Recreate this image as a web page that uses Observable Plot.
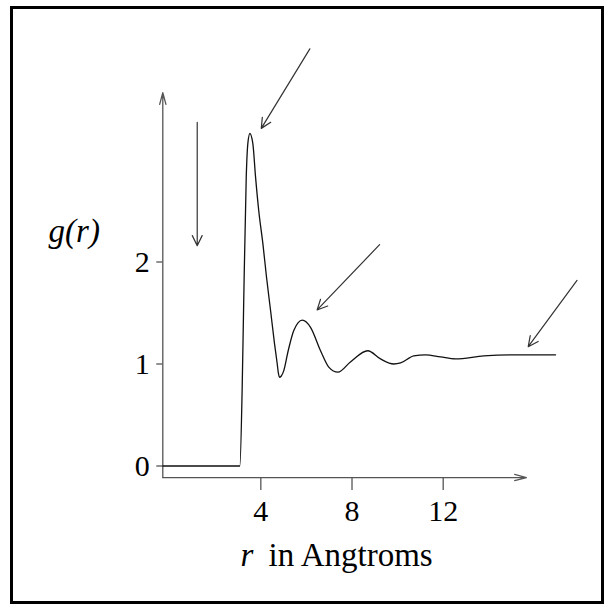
<!DOCTYPE html>
<html><head><meta charset="utf-8">
<script src="https://cdn.jsdelivr.net/npm/d3@7"></script>
<script src="https://cdn.jsdelivr.net/npm/@observablehq/plot@0.6"></script>
<style>
html,body{margin:0;padding:0;background:#fff;}
#wrap{position:relative;width:608px;height:610px;overflow:hidden;}
#frame{position:absolute;left:10px;top:6px;width:588px;height:592px;border:3px solid #000;box-sizing:content-box;}
#chart{position:absolute;left:0;top:0;}
</style></head><body>
<div id="wrap"><div id="frame"></div><div id="chart"></div></div>
<script>
// g(r) series
const rValues = [-0.3, 3.08, 3.18, 3.25, 3.36, 3.43, 3.52, 3.65, 3.77, 3.91, 4.09, 4.25, 4.43, 4.60, 4.72, 4.77, 4.82, 4.89, 5.00, 5.20, 5.45, 5.82, 6.18, 6.62, 6.98, 7.38, 7.93, 8.69, 9.25, 9.83, 10.13, 10.71, 11.22, 11.88, 12.54, 13.78, 14.95, 16.93];
const gValues = [0, 0, 0.74, 1.62, 2.83, 3.16, 3.26, 3.16, 2.83, 2.50, 2.18, 1.85, 1.52, 1.20, 1.00, 0.91, 0.87, 0.88, 0.93, 1.13, 1.33, 1.43, 1.36, 1.13, 0.97, 0.92, 1.02, 1.13, 1.05, 1.00, 1.01, 1.08, 1.09, 1.07, 1.05, 1.08, 1.09, 1.09];

// tick labels
const xTicks = [4, 8, 12];
const yTicks = [0, 1, 2];

// annotation arrows (data coordinates)
const arrowR1 = [6.15, 1.21, 9.21, 17.87];
const arrowG1 = [4.09, 3.37, 2.17, 1.82];
const arrowR2 = [4.02, 1.21, 6.47, 15.73];
const arrowG2 = [3.31, 2.16, 1.53, 1.17];

// axis extents
const axisOriginR = -0.3, axisOriginG = -0.113, yAxisTopG = 3.66, xAxisEndR = 15.65;

const curve = rValues.map((r, i) => ({r, g: gValues[i]}));
const arrows = arrowR1.map((d, i) => ({x1: d, y1: arrowG1[i], x2: arrowR2[i], y2: arrowG2[i]}));
const axes = [
  {x1: axisOriginR, y1: axisOriginG, x2: axisOriginR, y2: yAxisTopG},
  {x1: axisOriginR, y1: axisOriginG, x2: xAxisEndR, y2: axisOriginG}
];

const serif = "'Liberation Serif', 'Times New Roman', serif";

const chart = Plot.plot({
  width: 608,
  height: 610,
  marginLeft: 162.3,
  marginRight: 30.8,
  marginTop: 20,
  marginBottom: 133,
  style: {fontFamily: serif, fontSize: "30px", background: "transparent", color: "#000", overflow: "visible"},
  x: {domain: [-0.3, 17.9], range: [162.3, 577.2]},
  y: {domain: [0, 2], range: [465.5, 261.5]},
  marks: [
    Plot.arrow(axes, {x1: "x1", y1: "y1", x2: "x2", y2: "y2", stroke: "#555", strokeWidth: 1.3, headAngle: 30, headLength: 14}),
    Plot.axisX({ticks: xTicks, tickSize: 13, tickPadding: 9, fontSize: 30, tickFormat: d => String(d), label: null, stroke: "#555", fill: "#000", strokeWidth: 1.3}),
    Plot.axisY({ticks: yTicks, tickSize: 6, tickPadding: 7, fontSize: 30, tickFormat: d => String(d), label: null, stroke: "#555", fill: "#000", strokeWidth: 1.3}),
    Plot.line(curve, {x: "r", y: "g", curve: "monotone-x", stroke: "#111", strokeWidth: 1.3}),
    Plot.arrow(arrows, {x1: "x1", y1: "y1", x2: "x2", y2: "y2", stroke: "#333", strokeWidth: 1.2, headAngle: 52, headLength: 14}),
    Plot.text(["g(r)"], {x: -5.31, y: 2.20, text: d => d, fontStyle: "italic", fontSize: 33, textAnchor: "start", lineAnchor: "bottom", fill: "#000"}),
    Plot.text(["r"], {x: 3.11, y: -0.985, text: d => d, fontStyle: "italic", fontSize: 33, textAnchor: "start", lineAnchor: "bottom", fill: "#000"}),
    Plot.text(["in Angtroms"], {x: 4.34, y: -0.985, text: d => d, fontSize: 33, textAnchor: "start", lineAnchor: "bottom", fill: "#000"})
  ]
});
document.getElementById("chart").appendChild(chart);
</script>
</body></html>
